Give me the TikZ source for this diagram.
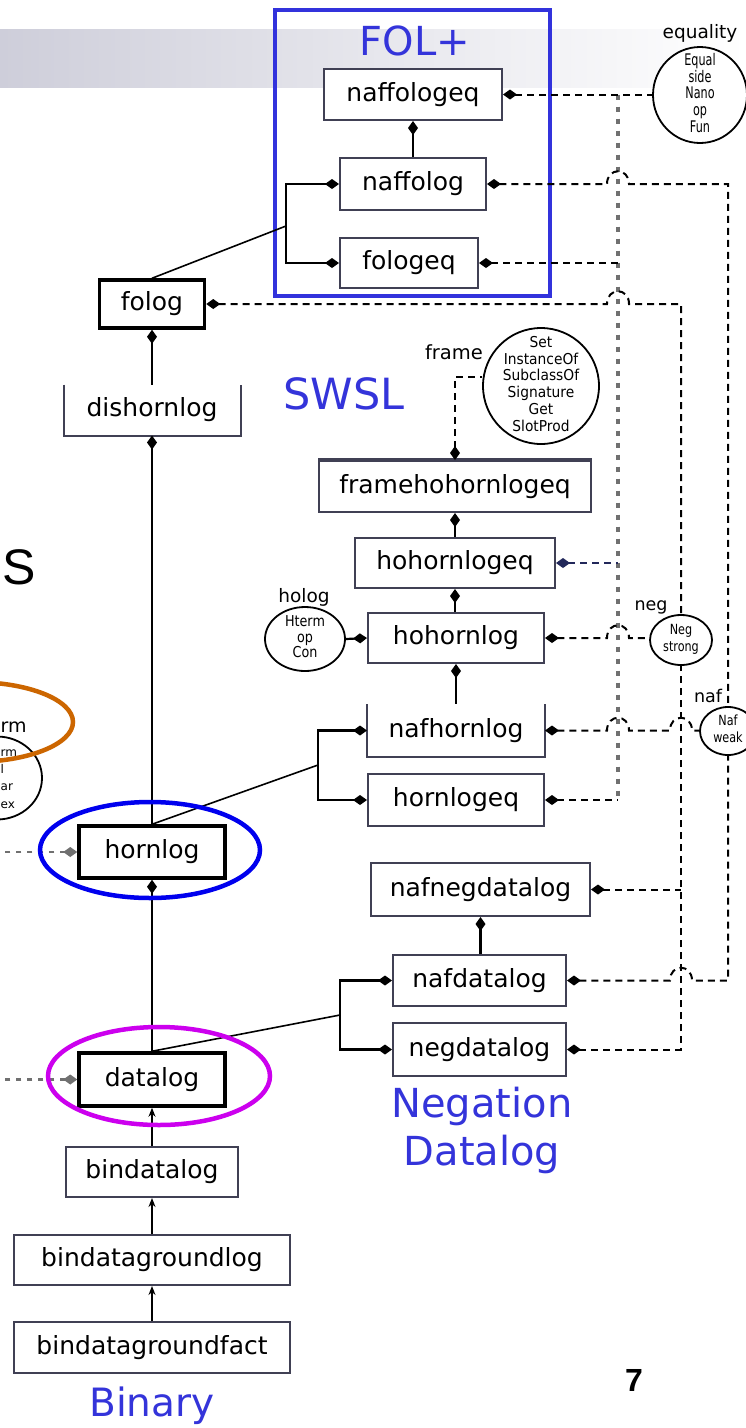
\documentclass[tikz,border=0pt]{standalone}
\usepackage{fontspec}
\usepackage{graphicx}
\setmainfont{DejaVu Sans}
\newfontfamily\arialf{Liberation Sans}
\usetikzlibrary{shapes.geometric,arrows.meta,calc}
\definecolor{tblue}{RGB}{52,52,218}
\definecolor{fblue}{RGB}{50,50,220}
\definecolor{bordc}{RGB}{64,64,84}
\definecolor{bandc}{RGB}{206,206,218}
\definecolor{orng}{RGB}{204,102,0}
\definecolor{magc}{RGB}{204,0,238}
\definecolor{ellblue}{RGB}{0,0,238}
\definecolor{navyc}{RGB}{34,40,90}
\definecolor{grayl}{RGB}{112,112,112}
\newcommand{\ctab}[2]{\scalebox{#1}[1]{\begin{tabular}{@{}c@{}}#2\end{tabular}}}
\tikzset{
  dmd/.tip={Kite[length=14pt,width=10pt,inset=7pt]},
  arr/.tip={Stealth[length=9pt,width=7pt]},
  hop/.style={insert path={-- ($(#1)+(-11,0)$) .. controls ($(#1)+(-11,-17)$) and ($(#1)+(11,-17)$) .. ($(#1)+(11,0)$)}}
}
\begin{document}
\begin{tikzpicture}[x=1pt,y=-1pt,
  box/.style={draw=bordc,line width=2pt,fill=white,inner sep=0pt,font=\fontsize{25}{30}\selectfont},
  tbox/.style={draw=black,line width=3.5pt,fill=white,inner sep=0pt,font=\fontsize{25}{30}\selectfont},
  circ/.style={ellipse,draw=black,line width=1.8pt,fill=white,inner sep=0pt},
  sol/.style={line width=2.2pt,draw=black},
  diag/.style={line width=1.6pt,draw=black},
  dl/.style={line width=2pt,draw=black,dash pattern=on 7pt off 5pt},
  dlg/.style={line width=2.5pt,draw=grayl,dash pattern=on 5pt off 6pt},
  gl/.style={line width=3.5pt,draw=grayl,dash pattern=on 5pt off 7pt},
  ttl/.style={text=tblue,inner sep=0pt},
  lab/.style={inner sep=0pt,font=\fontsize{18.5}{20}\selectfont}
]
\useasboundingbox (0,0) rectangle (746,1428);
\clip (0,0) rectangle (746,1428);
\fill[white] (0,0) rectangle (746,1428);
% top band
\shade[left color=bandc,right color=white] (0,29) rectangle (746,87);

% group frame
\node[draw=fblue,line width=4pt,minimum width=275pt,minimum height=286pt,inner sep=0pt] (folbox) at (412.5,153) {};
\node[ttl,font=\fontsize{40}{44}\selectfont] (folt) at (415,41) {FOL+};
\node[ttl,font=\fontsize{43}{48}\selectfont] (swsl) at (344,394) {SWSL};
\node[ttl,font=\fontsize{40}{48}\selectfont,align=center] (negt) at (482,1130) {Negation\\Datalog};
\node[ttl,font=\fontsize{39}{44}\selectfont] (bint) at (152,1406) {Binary};
\node[inner sep=0pt,font=\arialf\fontsize{50}{55}\selectfont] (bigS) at (19,567) {S};
\node[inner sep=0pt,font=\arialf\bfseries\fontsize{32}{36}\selectfont] (pgno) at (634,1380) {7};

% circles
\node[circ,minimum width=94pt,minimum height=96pt,
  label={[font=\fontsize{16}{16.5}\selectfont]center:{\ctab{0.7}{Equal\\side\\Nano\\op\\Fun}}}] (eq) at (700,95) {};
\node[lab] (eqlab) at (700,33) {equality};
\node[circ,minimum width=116pt,minimum height=116pt,
  label={[font=\fontsize{15}{16.7}\selectfont]center:{\ctab{0.92}{Set\\InstanceOf\\SubclassOf\\Signature\\Get\\SlotProd}}}] (frame) at (541,386) {};
\node[lab,font=\fontsize{19.5}{21}\selectfont] (framelab) at (454,352) {frame};
\node[circ,minimum width=80pt,minimum height=64pt,
  label={[font=\fontsize{15}{15.5}\selectfont]center:{\ctab{0.85}{Hterm\\op\\Con}}}] (holog) at (305,639) {};
\node[lab] (hologlab) at (304,597) {holog};
\node[circ,minimum width=62pt,minimum height=50pt,
  label={[font=\fontsize{14}{17}\selectfont]center:{\ctab{0.8}{Neg\\strong}}}] (neg) at (681,640) {};
\node[lab,font=\fontsize{17.5}{19}\selectfont] (neglab) at (651,607) {neg};
\node[circ,minimum width=56pt,minimum height=48pt,
  label={[font=\fontsize{14}{17}\selectfont]center:{\ctab{0.8}{Naf\\weak}}}] (naf) at (728,731) {};
\node[lab,font=\fontsize{17.5}{19}\selectfont] (naflab) at (708,696) {naf};

% left partial items
\node[ellipse,draw=black,line width=1.8pt,minimum width=90pt,minimum height=83pt,inner sep=0pt] (lc) at (-3,778) {};
\node[anchor=west,inner sep=0pt,font=\fontsize{12}{14}\selectfont] (lc1) at (0.5,753) {rm};
\node[anchor=west,inner sep=0pt,font=\fontsize{12}{14}\selectfont] (lc2) at (0.5,769) {l};
\node[anchor=west,inner sep=0pt,font=\fontsize{12}{14}\selectfont] (lc3) at (0.5,787) {ar};
\node[anchor=west,inner sep=0pt,font=\fontsize{12}{14}\selectfont] (lc4) at (0.5,805) {ex};
\node[anchor=west,inner sep=0pt,font=\fontsize{19}{22}\selectfont] (ot) at (0.5,727) {rm};

% boxes
\node[box,minimum width=178pt,minimum height=51pt] (naffologeq) at (413,94.5) {naffologeq};
\node[box,minimum width=146pt,minimum height=52pt] (naffolog) at (413,184) {naffolog};
\node[box,minimum width=138pt,minimum height=50pt] (fologeq) at (409,263) {fologeq};
\node[tbox,minimum width=105pt,minimum height=48pt] (folog) at (152,304) {folog};
\node[box,draw=none,minimum width=175pt,minimum height=49pt] (dishornlog) at (152,410) {dishornlog};
\draw[draw=bordc,line width=2pt] (dishornlog.north west) |- (dishornlog.south east) -- (dishornlog.north east);
\node[tbox,minimum width=146pt,minimum height=52pt] (hornlog) at (152,852) {hornlog};
\node[tbox,minimum width=146pt,minimum height=53pt] (datalog) at (152,1079.5) {datalog};
\node[box,minimum width=172pt,minimum height=50pt] (bindatalog) at (152,1172) {bindatalog};
\node[box,minimum width=276pt,minimum height=50pt] (bdgl) at (152,1260) {bindatagroundlog};
\node[box,minimum width=276pt,minimum height=51pt] (bdgf) at (152,1347.5) {bindatagroundfact};

\node[box,minimum width=272pt,minimum height=51pt] (fhhle) at (455,486.5) {framehohornlogeq};
\draw[line width=3.5pt,draw=bordc] (fhhle.north west) -- (fhhle.north east);
\node[box,minimum width=200pt,minimum height=50pt] (hhle) at (455,563) {hohornlogeq};
\node[box,minimum width=176pt,minimum height=50pt] (hhl) at (456,638) {hohornlog};
\node[box,draw=none,minimum width=176pt,minimum height=51pt] (nafhornlog) at (456,730.5) {nafhornlog};
\draw[draw=bordc,line width=2pt] (nafhornlog.north west) |- (nafhornlog.south east) -- (nafhornlog.north east);
\node[box,minimum width=176pt,minimum height=52pt] (hornlogeq) at (456,800) {hornlogeq};
\node[box,minimum width=219pt,minimum height=53pt] (nnd) at (480.5,889.5) {nafnegdatalog};
\node[box,minimum width=173pt,minimum height=51pt] (nafdatalog) at (479.5,980.5) {nafdatalog};
\node[box,minimum width=173pt,minimum height=53pt] (negdatalog) at (479.5,1049.5) {negdatalog};

% helper coordinates
\coordinate (gx) at (618,0);
\coordinate (lx) at (0,0);
\coordinate (b0) at (286,226);
\coordinate (b1) at (318,765);
\coordinate (b2) at (340,1015);
\coordinate (fr) at (455,377);
\coordinate (h1) at (naffolog.east -| gx);
\coordinate (h2) at (folog.east -| gx);
\coordinate (h3) at (hhl.east -| gx);
\coordinate (h4) at (nafhornlog.east -| gx);
\coordinate (h5) at (nafhornlog.east -| neg);
\coordinate (h6) at (nafdatalog.east -| neg);

% dashed connectors
\draw[gl] (naffologeq.east -| gx) -- (hornlogeq.east -| gx);
\draw[dl,{dmd}-] (naffologeq.east) -- (naffologeq.east -| eq.west);
\draw[dl,{dmd}-] (fologeq.east) -- (fologeq.east -| gx);
\draw[dl,draw=navyc,{dmd}-] (hhle.east) -- (hhle.east -| gx);
\draw[dl,{dmd}-] (hornlogeq.east) -- (hornlogeq.east -| gx);
\draw[dl,{dmd}-] (naffolog.east) [hop=h1] -| (naf.north);
\draw[dl,{dmd}-] (folog.east) [hop=h2] -| (neg.north);
\draw[dl,{dmd}-] (hhl.east) [hop=h3] -- (hhl.east -| neg.west);
\draw[dl,{dmd}-] (nafhornlog.east) [hop=h4] [hop=h5] -- (nafhornlog.east -| naf.west);
\draw[dl,{dmd}-] (negdatalog.east) -| (neg.south);
\draw[dl,{dmd}-] (nafdatalog.east) [hop=h6] -| (naf.south);
\draw[dl,{dmd}-] (nnd.east) -- (nnd.east -| neg);
\draw[dl,{dmd}-] (fhhle.north) -- (fhhle.north |- fr) -- (fr -| frame.west);
\draw[dlg,{dmd}-] (hornlog.west) -- (hornlog.west -| lx);
\draw[dlg,{dmd}-] (datalog.west) -- (datalog.west -| lx);

% solid connectors
\draw[sol,{dmd}-] (naffologeq.south) -- (naffolog.north);
\draw[sol,{dmd}-{dmd}] (naffolog.west) -| (b0) |- (fologeq.west);
\draw[diag] (folog.north) -- (b0);
\draw[sol,{dmd}-] (folog.south) -- (dishornlog.north);
\draw[sol,{dmd}-] (dishornlog.south) -- (hornlog.north);
\draw[sol,{dmd}-{dmd}] (nafhornlog.west) -| (b1) |- (hornlogeq.west);
\draw[diag] (hornlog.north) -- (b1);
\draw[sol,{dmd}-] (hornlog.south) -- (datalog.north);
\draw[sol,{dmd}-{dmd}] (nafdatalog.west) -| (b2) |- (negdatalog.west);
\draw[diag] (datalog.north) -- (b2);
\draw[sol,-{arr}] (bindatalog.north) -- (datalog.south);
\draw[sol,-{arr}] (bdgl.north) -- (bindatalog.south);
\draw[sol,-{arr}] (bdgf.north) -- (bdgl.south);
\draw[sol,{dmd}-] (fhhle.south) -- (fhhle.south |- hhle.north);
\draw[sol,{dmd}-] (hhle.south) -- (hhle.south |- hhl.north);
\draw[sol,{dmd}-] (hhl.south) -- (nafhornlog.north);
\draw[sol,{dmd}-] (nnd.south) -- (nnd.south |- nafdatalog.north);
\draw[sol,{dmd}-] (hhl.west) -- (holog.east);

% highlight ellipses
\node[ellipse,draw=orng,line width=4.5pt,minimum width=200pt,minimum height=80pt,inner sep=0pt] (oe) at (-27,722) {};
\node[ellipse,draw=ellblue,line width=4.5pt,minimum width=220pt,minimum height=96pt,inner sep=0pt] (be) at (150,850) {};
\node[ellipse,draw=magc,line width=4.5pt,minimum width=222pt,minimum height=98pt,inner sep=0pt] (me) at (159,1076) {};
\end{tikzpicture}
\end{document}
